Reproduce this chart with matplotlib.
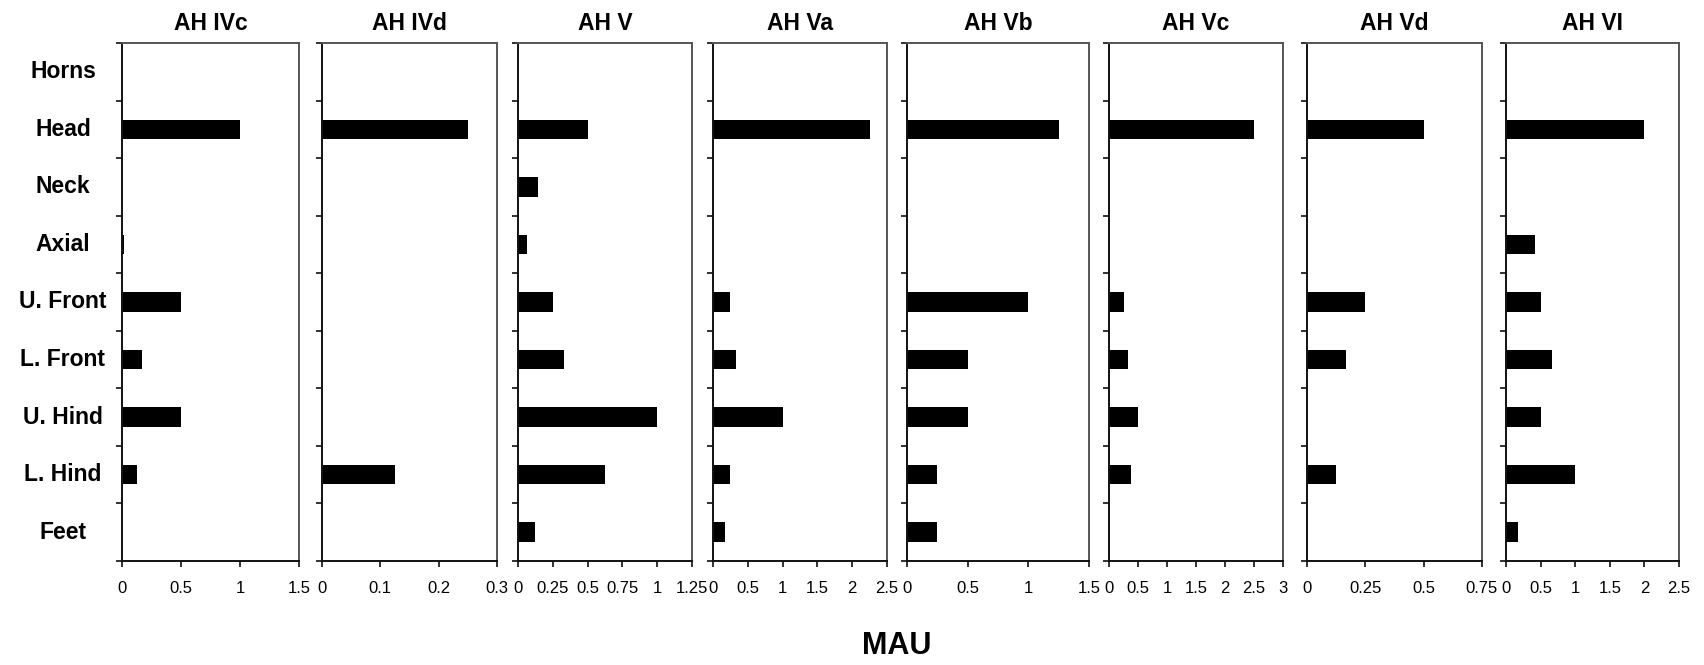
import numpy as np
import matplotlib
matplotlib.use('Agg')
import matplotlib.pyplot as plt
import matplotlib.transforms as mtransforms

plt.rcParams['font.family'] = ['Liberation Sans', 'DejaVu Sans']

# 部位（从上到下）
parts = ['Horns', 'Head', 'Neck', 'Axial', 'U. Front', 'L. Front', 'U. Hind', 'L. Hind', 'Feet']

# 各层位 MAU 值
ah_ivc = [0, 1.0, 0, 0.015, 0.5, 0.167, 0.5, 0.125, 0]
ah_ivd = [0, 0.25, 0, 0, 0, 0, 0, 0.125, 0]
ah_v = [0, 0.5, 0.143, 0.0625, 0.25, 0.333, 1.0, 0.625, 0.125]
ah_va = [0, 2.25, 0, 0, 0.25, 0.333, 1.0, 0.25, 0.167]
ah_vb = [0, 1.25, 0, 0, 1.0, 0.5, 0.5, 0.25, 0.25]
ah_vc = [0, 2.5, 0, 0, 0.25, 0.333, 0.5, 0.375, 0]
ah_vd = [0, 0.5, 0, 0, 0.25, 0.167, 0, 0.125, 0]
ah_vi = [0, 2.0, 0, 0.42, 0.5, 0.667, 0.5, 1.0, 0.167]

titles = ['AH IVc', 'AH IVd', 'AH V', 'AH Va', 'AH Vb', 'AH Vc', 'AH Vd', 'AH VI']
series = [ah_ivc, ah_ivd, ah_v, ah_va, ah_vb, ah_vc, ah_vd, ah_vi]

# x 轴刻度
xticks_all = [
    [0, 0.5, 1, 1.5],
    [0, 0.1, 0.2, 0.3],
    [0, 0.25, 0.5, 0.75, 1, 1.25],
    [0, 0.5, 1, 1.5, 2, 2.5],
    [0, 0.5, 1, 1.5],
    [0, 0.5, 1, 1.5, 2, 2.5, 3],
    [0, 0.25, 0.5, 0.75],
    [0, 0.5, 1, 1.5, 2, 2.5],
]

W, H = 1704, 665
fig = plt.figure(figsize=(W / 100, H / 100), dpi=100)

# 每个面板的像素位置 (左, 右)
panel_px = [(122, 299), (322, 497), (518, 692), (713, 887),
            (907, 1089), (1109, 1283), (1307, 1482), (1506, 1679)]
top_px, bottom_px = 43, 561

n = len(parts)
ypos = np.arange(n)
axes = []
for i, (l, r) in enumerate(panel_px):
    ax = fig.add_axes([l / W, 1 - bottom_px / H, (r - l) / W, (bottom_px - top_px) / H])
    ax.barh(ypos, series[i], height=0.34, color='black')
    ax.set_ylim(n - 0.5, -0.5)
    ax.set_yticks(np.arange(-0.5, n, 1))
    ax.set_yticklabels([])
    xt = xticks_all[i]
    ax.set_xlim(0, xt[-1])
    ax.set_xticks(xt)
    ax.set_xticklabels([('%g' % v) for v in xt], family=['Liberation Sans Narrow', 'Liberation Sans'],
                       fontsize=12)
    ax.tick_params(axis='both', direction='out', length=4.5, width=1.3, color='#222222')
    ax.tick_params(axis='x', pad=10)
    for s in ['left', 'bottom']:
        ax.spines[s].set_color('#111111')
        ax.spines[s].set_linewidth(1.4)
    for s in ['top', 'right']:
        ax.spines[s].set_color('#555555')
        ax.spines[s].set_linewidth(1.4)
    ax.set_title(titles[i], fontsize=16.5, fontweight='bold', pad=9)
    axes.append(ax)

# 部位标签
trans = mtransforms.blended_transform_factory(fig.transFigure, axes[0].transData)
for j, p in enumerate(parts):
    fig.text(63 / W, j, p, transform=trans, ha='center', va='center',
             fontsize=16.5, fontweight='bold')

fig.text(897 / W, 1 - 646 / H, 'MAU', ha='center', va='center', fontsize=22, fontweight='bold')

plt.savefig('out.png', dpi=100)
